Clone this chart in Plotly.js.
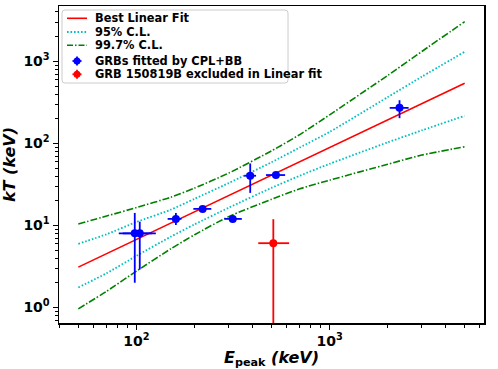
<!DOCTYPE html>
<html>
<head>
<meta charset="utf-8">
<script src="https://cdn.plot.ly/plotly-3.0.1.min.js"></script>
<style>html,body{margin:0;padding:0;background:#fff;}#plot{width:498px;height:369px;}</style>
</head>
<body>
<div id="plot"></div>
<script>
// ---- data ----
const E_fit = [50, 5000];
const kT_fit = [3.1, 540];

const E_band = [50, 70, 100, 150, 200, 300, 500, 700, 1000, 2000, 3000, 5000];
const cl95_up = [5.96, 7.8, 11.0, 15.5, 21.1, 32.8, 58.9, 89, 138, 367, 650, 1310];
const cl95_lo = [1.75, 2.61, 4.25, 7.25, 10.3, 16.4, 28.7, 40.3, 56.3, 103, 144, 217];
const cl997_up = [10.4, 13.0, 16.5, 22.0, 28.5, 43.4, 81, 128, 223, 675, 1320, 3050];
const cl997_lo = [0.96, 1.57, 2.77, 5.15, 7.7, 12.8, 20.8, 27.9, 35.6, 55.7, 72, 90.9];

// GRBs fitted by CPL+BB
const grb_E = [98, 104, 160, 220, 315, 388, 527, 2300];
const grb_E_minus = [17, 19, 15, 23, 30, 27, 59, 254];
const grb_E_plus = [22, 22, 11, 24, 36, 28, 61, 263];
const grb_kT = [8.0, 8.0, 12.0, 15.9, 12.0, 40.3, 41.1, 271];
const grb_kT_minus = [6.0, 5.1, 1.9, 1.2, 0.5, 15.4, 1.5, 68];
const grb_kT_plus = [6.2, 3.1, 2.2, 1.2, 0.5, 16.6, 1.5, 65];

// GRB 150819B (excluded)
const ex_E = [511];
const ex_E_minus = [84];
const ex_E_plus = [106];
const ex_kT = [6.07];
const ex_kT_minus = [6.0];
const ex_kT_plus = [5.83];

const legendLabels = ["Best Linear Fit", "95% C.L.", "99.7% C.L.",
  "GRBs fitted by CPL+BB", "GRB 150819B excluded in Linear fit"];
const xTickVals = [100, 1000];
const xTickText = ["10<sup>2</sup>", "10<sup>3</sup>"];
const yTickVals = [1, 10, 100, 1000];
const yTickText = ["10<sup>0</sup>", "10<sup>1</sup>", "10<sup>2</sup>", "10<sup>3</sup>"];

// ---- styling ----
const RED = "#ff0000", CYAN = "#00bfbf", GREEN = "#008000", BLUE = "#0000ff";
const FONT = "DejaVu Sans";
const ML = 59, MR = 14, MT = 6, MB = 46, W = 498, H = 369;
const PW = W - ML - MR, PH = H - MT - MB;
const px = v => (v - ML) / PW;          // pixel -> paper x
const py = v => (H - MB - v) / PH;      // pixel -> paper y

const dotDash = "1.6px,1.9px";
const dashDot = "7px,2px,1.5px,2px";

const traces = [
  {x: E_band, y: cl997_up, mode: "lines", line: {color: GREEN, width: 1.6, dash: dashDot, shape: "spline", smoothing: 0.6}, hoverinfo: "skip"},
  {x: E_band, y: cl997_lo, mode: "lines", line: {color: GREEN, width: 1.6, dash: dashDot, shape: "spline", smoothing: 0.6}, hoverinfo: "skip"},
  {x: E_band, y: cl95_up, mode: "lines", line: {color: CYAN, width: 1.8, dash: dotDash, shape: "spline", smoothing: 0.6}, hoverinfo: "skip"},
  {x: E_band, y: cl95_lo, mode: "lines", line: {color: CYAN, width: 1.8, dash: dotDash, shape: "spline", smoothing: 0.6}, hoverinfo: "skip"},
  {x: E_fit, y: kT_fit, mode: "lines", line: {color: RED, width: 1.6}},
  {x: grb_E, y: grb_kT, mode: "markers", marker: {color: BLUE, size: 8},
   error_x: {type: "data", symmetric: false, array: grb_E_plus, arrayminus: grb_E_minus, color: BLUE, thickness: 1.8, width: 0},
   error_y: {type: "data", symmetric: false, array: grb_kT_plus, arrayminus: grb_kT_minus, color: BLUE, thickness: 1.8, width: 0}},
  {x: ex_E, y: ex_kT, mode: "markers", marker: {color: RED, size: 8},
   error_x: {type: "data", symmetric: false, array: ex_E_plus, arrayminus: ex_E_minus, color: RED, thickness: 1.8, width: 0},
   error_y: {type: "data", symmetric: false, array: ex_kT_plus, arrayminus: ex_kT_minus, color: RED, thickness: 1.8, width: 0}}
];

// minor tick positions
function minorTicks(lo, hi) {
  const out = [];
  for (let d = lo; d <= hi; d++) {
    for (let m = 2; m <= 9; m++) out.push(m * Math.pow(10, d));
  }
  return out;
}

// ---- hand-built legend (matplotlib style, compact) ----
const shapes = [];
const annotations = [];
const boxL = 62, boxR = 288, boxT = 10, boxB = 83, r = 3;
shapes.push({
  type: "path", xref: "paper", yref: "paper", layer: "above",
  path: `M${px(boxL + r)},${py(boxT)} L${px(boxR - r)},${py(boxT)} Q${px(boxR)},${py(boxT)} ${px(boxR)},${py(boxT + r)} ` +
        `L${px(boxR)},${py(boxB - r)} Q${px(boxR)},${py(boxB)} ${px(boxR - r)},${py(boxB)} ` +
        `L${px(boxL + r)},${py(boxB)} Q${px(boxL)},${py(boxB)} ${px(boxL)},${py(boxB - r)} ` +
        `L${px(boxL)},${py(boxT + r)} Q${px(boxL)},${py(boxT)} ${px(boxL + r)},${py(boxT)} Z`,
  line: {color: "#cccccc", width: 1}, fillcolor: "rgba(255,255,255,0.8)"
});
const rowsY = [18.3, 32.0, 45.3, 61, 74.3];
const hx0 = 67, hx1 = 87, hxc = 77;
for (let i = 0; i < 3; i++) {
  const ln = i === 0 ? {color: RED, width: 1.6}
           : (i === 1 ? {color: CYAN, width: 1.8, dash: dotDash}
                      : {color: GREEN, width: 1.6, dash: "6px,2px,1.5px,2px"});
  shapes.push({type: "line", xref: "paper", yref: "paper", layer: "above",
    x0: px(hx0), x1: px(hx1), y0: py(rowsY[i]), y1: py(rowsY[i]), line: ln});
}
[[3, BLUE], [4, RED]].forEach(([i, c]) => {
  const yc = rowsY[i];
  shapes.push({type: "line", xref: "paper", yref: "paper", layer: "above",
    x0: px(hxc - 4.5), x1: px(hxc + 4.5), y0: py(yc), y1: py(yc), line: {color: c, width: 1.8}});
  shapes.push({type: "line", xref: "paper", yref: "paper", layer: "above",
    x0: px(hxc), x1: px(hxc), y0: py(yc - 4.5), y1: py(yc + 4.5), line: {color: c, width: 1.8}});
  shapes.push({type: "circle", xref: "paper", yref: "paper", layer: "above",
    x0: px(hxc - 3.5), x1: px(hxc + 3.5), y0: py(yc - 3.5), y1: py(yc + 3.5),
    fillcolor: c, line: {color: c, width: 0}});
});
legendLabels.forEach((t, i) => {
  annotations.push({xref: "paper", yref: "paper", x: px(93), y: py(rowsY[i]),
    xanchor: "left", yanchor: "middle", showarrow: false, text: t,
    font: {family: FONT, size: 11.4, color: "#000", weight: "bold"}});
});

const axisCommon = {
  type: "log", showgrid: false, zeroline: false,
  showline: true, linecolor: "#000", linewidth: 1.5, mirror: true,
  ticks: "outside", ticklen: 5, tickwidth: 1.2, tickcolor: "#000",
  tickmode: "array",
  tickfont: {family: FONT, size: 14, color: "#000", weight: "bold"}
};

const layout = {
  width: W, height: H,
  margin: {l: ML, r: MR, t: MT, b: MB},
  paper_bgcolor: "#fff", plot_bgcolor: "#fff",
  showlegend: false,
  xaxis: Object.assign({}, axisCommon, {
    range: [1.599, 3.799], tickvals: xTickVals, ticktext: xTickText,
    minor: {tickmode: "array", tickvals: minorTicks(1, 3), ticks: "outside", ticklen: 3, tickwidth: 1, tickcolor: "#000"},
    title: {text: "<i>E</i><sub>peak</sub><i> (keV)</i>", standoff: 3,
      font: {family: FONT, size: 16, color: "#000", weight: "bold"}}
  }),
  yaxis: Object.assign({}, axisCommon, {
    range: [-0.19, 3.675], tickvals: yTickVals, ticktext: yTickText,
    minor: {tickmode: "array", tickvals: minorTicks(-1, 3), ticks: "outside", ticklen: 3, tickwidth: 1, tickcolor: "#000"},
    title: {text: "<i>kT (keV)</i>", standoff: 4,
      font: {family: FONT, size: 16, color: "#000", weight: "bold"}}
  }),
  shapes: shapes,
  annotations: annotations
};

Plotly.newPlot("plot", traces, layout, {staticPlot: true, displayModeBar: false});
</script>
</body>
</html>
